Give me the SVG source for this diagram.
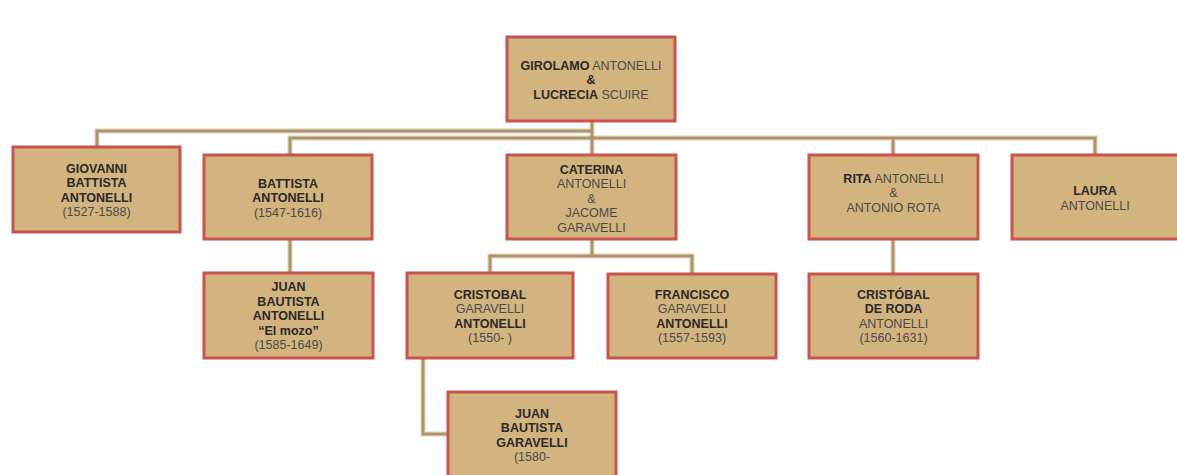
<svg xmlns="http://www.w3.org/2000/svg" width="1177" height="475" viewBox="0 0 1177 475">
  <defs>
    <style>
      .box { fill: #D3B37E; stroke: #C9534F; stroke-width: 3; }
      .halo { fill: none; stroke: #F2DDCC; stroke-width: 5.5; }
      .link { fill: none; stroke: #A8966A; stroke-width: 3; }
      text { font-family: "Liberation Sans", Arial, sans-serif; font-size: 12.5px; text-anchor: middle; fill: #4a4a4a; }
      .b { font-weight: bold; fill: #2a2a2a; }
    </style>
  </defs>
  <rect width="1177" height="475" fill="#ffffff"/>

  <!-- connectors -->
  <g id="connectors">
    <g class="halo">
      <path d="M592 121 V155"/>
      <path d="M97 147 V131 H592"/>
      <path d="M290 155 V138 H1095 V155"/>
      <path d="M893 138 V155"/>
      <path d="M290 239 V273"/>
      <path d="M592 239 V256"/>
      <path d="M490 273 V256 H692 V274"/>
      <path d="M893 239 V274"/>
      <path d="M423 358 V434 H448"/>
    </g>
    <g class="link">
      <path d="M592 121 V155"/>
      <path d="M97 147 V131 H592"/>
      <path d="M290 155 V138 H1095 V155"/>
      <path d="M893 138 V155"/>
      <path d="M290 239 V273"/>
      <path d="M592 239 V256"/>
      <path d="M490 273 V256 H692 V274"/>
      <path d="M893 239 V274"/>
      <path d="M423 358 V434 H448"/>
    </g>
  </g>

  <g id="girolamo">
    <rect class="box" x="507" y="37" width="168" height="84"/>
    <text x="591" y="69.5"><tspan class="b">GIROLAMO</tspan> ANTONELLI</text>
    <text x="591" y="84" class="b">&amp;</text>
    <text x="591" y="98.5"><tspan class="b">LUCRECIA</tspan> SCUIRE</text>
  </g>

  <g id="giovanni">
    <rect class="box" x="13" y="147" width="167" height="85"/>
    <text x="96.5" y="172.5" class="b">GIOVANNI</text>
    <text x="96.5" y="187" class="b">BATTISTA</text>
    <text x="96.5" y="201.5" class="b">ANTONELLI</text>
    <text x="96.5" y="216">(1527-1588)</text>
  </g>

  <g id="battista">
    <rect class="box" x="204" y="155" width="168" height="84"/>
    <text x="288" y="187.5" class="b">BATTISTA</text>
    <text x="288" y="202" class="b">ANTONELLI</text>
    <text x="288" y="216.5">(1547-1616)</text>
  </g>

  <g id="caterina">
    <rect class="box" x="507" y="155" width="169" height="84"/>
    <text x="591.5" y="173.5" class="b">CATERINA</text>
    <text x="591.5" y="188">ANTONELLI</text>
    <text x="591.5" y="202.5">&amp;</text>
    <text x="591.5" y="217">JACOME</text>
    <text x="591.5" y="231.5">GARAVELLI</text>
  </g>

  <g id="rita">
    <rect class="box" x="809" y="155" width="169" height="84"/>
    <text x="893.5" y="182.5"><tspan class="b">RITA</tspan> ANTONELLI</text>
    <text x="893.5" y="197">&amp;</text>
    <text x="893.5" y="211.5">ANTONIO ROTA</text>
  </g>

  <g id="laura">
    <rect class="box" x="1012" y="155" width="168" height="84"/>
    <text x="1095" y="195" class="b">LAURA</text>
    <text x="1095" y="209.5">ANTONELLI</text>
  </g>

  <g id="juan-bautista-antonelli">
    <rect class="box" x="204" y="273" width="169" height="85"/>
    <text x="288.5" y="291" class="b">JUAN</text>
    <text x="288.5" y="305.5" class="b">BAUTISTA</text>
    <text x="288.5" y="320" class="b">ANTONELLI</text>
    <text x="288.5" y="334.5" class="b">“El mozo”</text>
    <text x="288.5" y="349">(1585-1649)</text>
  </g>

  <g id="cristobal-garavelli">
    <rect class="box" x="407" y="273" width="166" height="85"/>
    <text x="490" y="298.5" class="b">CRISTOBAL</text>
    <text x="490" y="313">GARAVELLI</text>
    <text x="490" y="327.5" class="b">ANTONELLI</text>
    <text x="490" y="342">(1550- )</text>
  </g>

  <g id="francisco">
    <rect class="box" x="608" y="274" width="168" height="84"/>
    <text x="692" y="298.5" class="b">FRANCISCO</text>
    <text x="692" y="313">GARAVELLI</text>
    <text x="692" y="327.5" class="b">ANTONELLI</text>
    <text x="692" y="342">(1557-1593)</text>
  </g>

  <g id="cristobal-de-roda">
    <rect class="box" x="809" y="274" width="169" height="84"/>
    <text x="893.5" y="298.5" class="b">CRISTÓBAL</text>
    <text x="893.5" y="313" class="b">DE RODA</text>
    <text x="893.5" y="327.5">ANTONELLI</text>
    <text x="893.5" y="342">(1560-1631)</text>
  </g>

  <g id="juan-bautista-garavelli">
    <rect class="box" x="448" y="392" width="168" height="85"/>
    <text x="532" y="417.5" class="b">JUAN</text>
    <text x="532" y="432" class="b">BAUTISTA</text>
    <text x="532" y="446.5" class="b">GARAVELLI</text>
    <text x="532" y="461">(1580-</text>
  </g>
</svg>
